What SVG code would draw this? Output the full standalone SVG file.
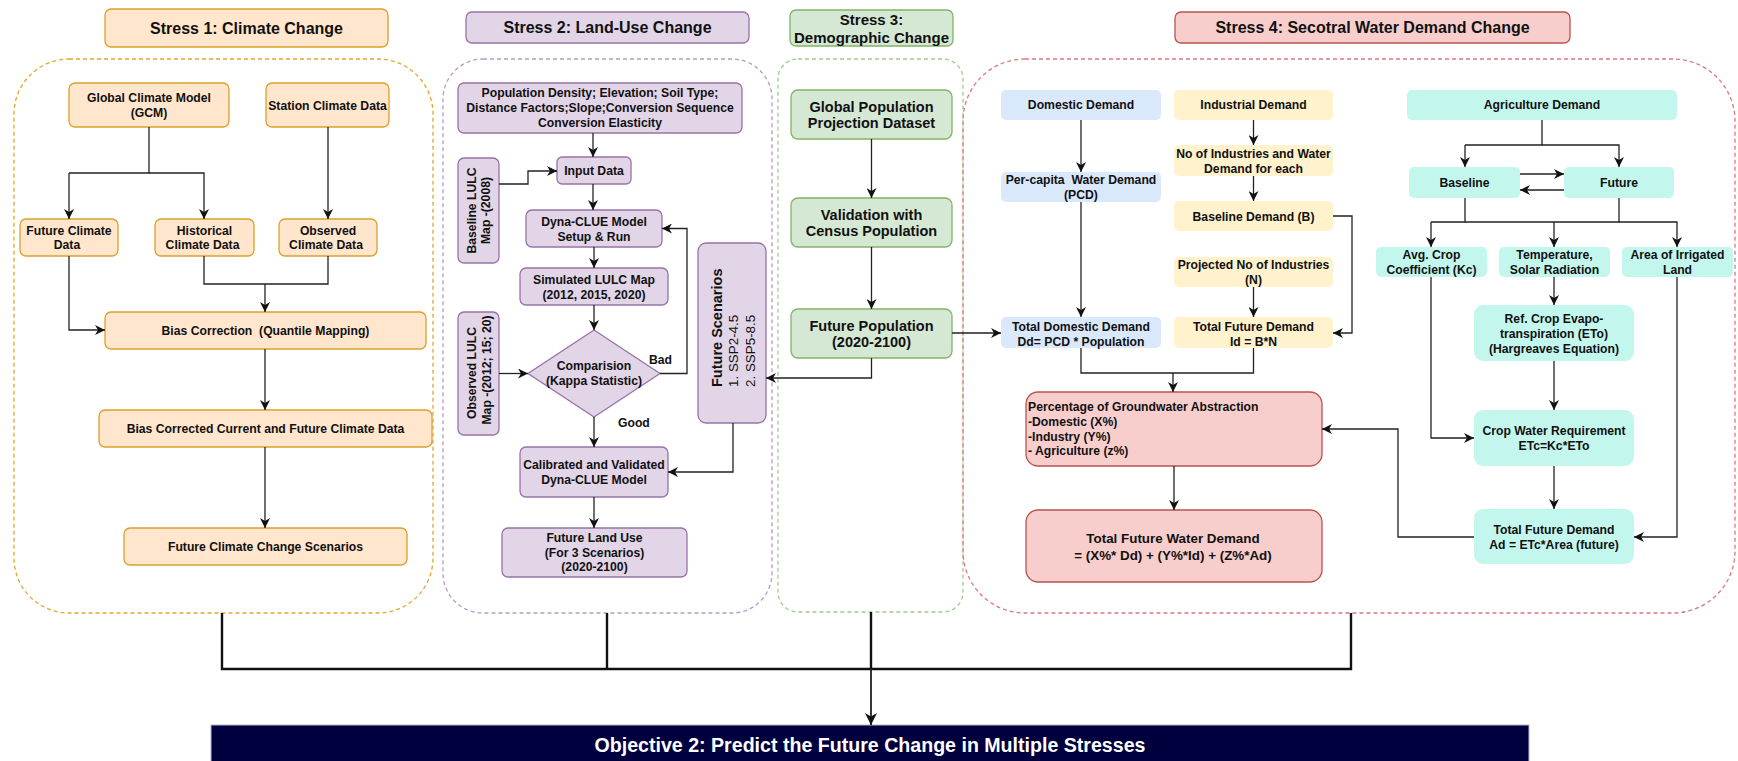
<svg xmlns="http://www.w3.org/2000/svg" width="1738" height="761" viewBox="0 0 1738 761">
  <defs>
    <marker id="arr" viewBox="0 0 10 10" markerWidth="10" markerHeight="10" refX="10" refY="5" orient="auto" markerUnits="userSpaceOnUse">
      <path d="M0,0 L10,5 L0,10 L3,5 Z" fill="#111"/>
    </marker>
    <marker id="arrBig" viewBox="0 0 10 10" markerWidth="12" markerHeight="12" refX="10" refY="5" orient="auto" markerUnits="userSpaceOnUse">
      <path d="M0,0 L10,5 L0,10 L3,5 Z" fill="#111"/>
    </marker>
  </defs>
  <style>
    text { font-family: "Liberation Sans", Arial, sans-serif; font-weight: bold; fill: #111; dominant-baseline: central; }
    .c { text-anchor: middle; }
    .l { text-anchor: start; }
    .pre { white-space: pre; }
    .t16 { font-size: 16px; }
    .t15 { font-size: 15px; }
    .t14 { font-size: 14.5px; }
    .t13 { font-size: 13.4px; }
    .t12 { font-size: 12.2px; }
    .reg { font-weight: normal; }
    .s1 { fill: #ffe6cc; stroke: #dca12a; stroke-width: 1.3; }
    .s2 { fill: #e1d5e7; stroke: #9673a6; stroke-width: 1.3; }
    .s3 { fill: #d5e8d4; stroke: #82b366; stroke-width: 1.3; }
    .s4 { fill: #f8cecc; stroke: #b85450; stroke-width: 1.3; }
    .dom { fill: #dae8fc; }
    .ind { fill: #fff2cc; }
    .agr { fill: #c3f7ed; }
    .box1 { fill: none; stroke: #e0a82e; stroke-width: 1.3; stroke-dasharray: 4 3; }
    .box2 { fill: none; stroke: #b59cc6; stroke-width: 1.3; stroke-dasharray: 4 3; }
    .box3 { fill: none; stroke: #9fcd87; stroke-width: 1.3; stroke-dasharray: 4 3; }
    .box4 { fill: none; stroke: #d97a78; stroke-width: 1.3; stroke-dasharray: 4 3; }
    .edge { fill: none; stroke: #222; stroke-width: 1.3; }
    .edge.a { marker-end: url(#arr); }
    .trunk { fill: none; stroke: #111; stroke-width: 2.4; }
  </style>

  <!-- Stress containers -->
  <g id="containers">
    <rect class="box1" x="14" y="59" width="419" height="554" rx="55"/>
    <rect class="box2" x="443" y="59" width="329" height="554" rx="40"/>
    <rect class="box3" x="778" y="59" width="185" height="553" rx="20"/>
    <rect class="box4" x="963" y="59" width="772" height="554" rx="62"/>
  </g>

  <!-- Stress 1: Climate Change -->
  <g id="stress1-title">
    <rect class="s1" x="105" y="9" width="283" height="38" rx="6"/>
    <text class="c t16" x="246.5" y="28">Stress 1: Climate Change</text>
  </g>
  <g id="gcm">
    <rect class="s1" x="69" y="83" width="160" height="44" rx="6"/>
    <text class="c t12" x="149" y="98">Global Climate Model</text>
    <text class="c t12" x="149" y="113">(GCM)</text>
  </g>
  <g id="station">
    <rect class="s1" x="266" y="83" width="123" height="44" rx="6"/>
    <text class="c t12" x="327.5" y="106">Station Climate Data</text>
  </g>
  <g id="future-climate">
    <rect class="s1" x="20" y="219" width="98" height="37" rx="6"/>
    <text class="c t12" x="69" y="230.5">Future Climate</text>
    <text class="c t12" x="67" y="245">Data</text>
  </g>
  <g id="historical-climate">
    <rect class="s1" x="155" y="219" width="99" height="37" rx="6"/>
    <text class="c t12" x="204.5" y="230.5">Historical</text>
    <text class="c t12" x="202.5" y="245">Climate Data</text>
  </g>
  <g id="observed-climate">
    <rect class="s1" x="279" y="219" width="98" height="37" rx="6"/>
    <text class="c t12" x="328" y="230.5">Observed</text>
    <text class="c t12" x="326" y="245">Climate Data</text>
  </g>
  <g id="bias-correction">
    <rect class="s1" x="105" y="312" width="321" height="37" rx="6"/>
    <text class="c t12 pre" x="265.5" y="330.5">Bias Correction  (Quantile Mapping)</text>
  </g>
  <g id="bias-corrected">
    <rect class="s1" x="99" y="410" width="333" height="37" rx="6"/>
    <text class="c t12" x="265.5" y="428.5">Bias Corrected Current and Future Climate Data</text>
  </g>
  <g id="climate-scenarios">
    <rect class="s1" x="124" y="528" width="283" height="37" rx="6"/>
    <text class="c t12" x="265.5" y="546.5">Future Climate Change Scenarios</text>
  </g>

  <!-- Stress 2: Land-Use Change -->
  <g id="stress2-title">
    <rect class="s2" x="466" y="12" width="283" height="31" rx="6"/>
    <text class="c t16" x="607.5" y="27.5">Stress 2: Land-Use Change</text>
  </g>
  <g id="drivers">
    <rect class="s2" x="458" y="83" width="284" height="50" rx="6"/>
    <text class="c t12" x="600" y="93">Population Density; Elevation; Soil Type;</text>
    <text class="c t12" x="600" y="108">Distance Factors;Slope;Conversion Sequence</text>
    <text class="c t12" x="600" y="123">Conversion Elasticity</text>
  </g>
  <g id="input-data">
    <rect class="s2" x="557" y="157" width="74" height="27" rx="5"/>
    <text class="c t12" x="594" y="170.5">Input Data</text>
  </g>
  <g id="baseline-lulc">
    <rect class="s2" x="458" y="158" width="41" height="105" rx="6"/>
    <text class="c t12" transform="translate(472,210.5) rotate(-90)" x="0" y="0">Baseline LULC</text>
    <text class="c t12" transform="translate(486,210.5) rotate(-90)" x="0" y="0">Map -(2008)</text>
  </g>
  <g id="dyna-setup">
    <rect class="s2" x="526" y="210" width="136" height="37" rx="6"/>
    <text class="c t12" x="594" y="222">Dyna-CLUE Model</text>
    <text class="c t12" x="594" y="237">Setup &amp; Run</text>
  </g>
  <g id="simulated-lulc">
    <rect class="s2" x="520" y="268" width="148" height="37" rx="6"/>
    <text class="c t12" x="594" y="280">Simulated LULC Map</text>
    <text class="c t12" x="594" y="295">(2012, 2015, 2020)</text>
  </g>
  <g id="comparison">
    <polygon class="s2" points="594,330 660,373.5 594,417 528,373.5"/>
    <text class="c t12" x="594" y="366">Comparision</text>
    <text class="c t12" x="594" y="381">(Kappa Statistic)</text>
  </g>
  <g id="observed-lulc">
    <rect class="s2" x="458" y="312" width="41" height="123" rx="6"/>
    <text class="c t12" transform="translate(472,373) rotate(-90)" x="0" y="0">Observed LULC</text>
    <text class="c t12" transform="translate(487,370) rotate(-90)" x="0" y="0">Map -(2012; 15; 20)</text>
  </g>
  <g id="calibrated">
    <rect class="s2" x="520" y="447" width="148" height="50" rx="6"/>
    <text class="c t12" x="594" y="465">Calibrated and Validated</text>
    <text class="c t12" x="594" y="480">Dyna-CLUE Model</text>
  </g>
  <g id="future-land-use">
    <rect class="s2" x="502" y="528" width="185" height="49" rx="6"/>
    <text class="c t12" x="594.5" y="538">Future Land Use</text>
    <text class="c t12" x="594.5" y="552.5">(For 3 Scenarios)</text>
    <text class="c t12" x="594.5" y="567">(2020-2100)</text>
  </g>
  <g id="future-scenarios">
    <rect class="s2" x="698" y="243" width="68" height="180" rx="8"/>
    <text class="l t14" transform="translate(717,387) rotate(-90)" x="0" y="0">Future Scenarios</text>
    <text class="l t13 reg" transform="translate(733.5,387) rotate(-90)" x="0" y="0">1. SSP2-4.5</text>
    <text class="l t13 reg" transform="translate(750,387) rotate(-90)" x="0" y="0">2. SSP5-8.5</text>
  </g>
  <g id="edge-labels">
    <text class="l t12" x="649" y="360">Bad</text>
    <text class="l t12" x="618" y="423">Good</text>
  </g>

  <!-- Stress 3: Demographic Change -->
  <g id="stress3-title">
    <rect class="s3" x="790" y="10" width="163" height="36" rx="6"/>
    <text class="c t15" x="871.5" y="19">Stress 3:</text>
    <text class="c t15" x="871.5" y="37">Demographic Change</text>
  </g>
  <g id="global-population">
    <rect class="s3" x="791" y="90" width="161" height="49" rx="7"/>
    <text class="c t14" x="871.5" y="106.5">Global Population</text>
    <text class="c t14" x="871.5" y="123">Projection Dataset</text>
  </g>
  <g id="census-validation">
    <rect class="s3" x="791" y="198" width="161" height="49" rx="7"/>
    <text class="c t14" x="871.5" y="214.5">Validation with</text>
    <text class="c t14" x="871.5" y="231">Census Population</text>
  </g>
  <g id="future-population">
    <rect class="s3" x="791" y="309" width="161" height="49" rx="7"/>
    <text class="c t14" x="871.5" y="325.5">Future Population</text>
    <text class="c t14" x="871.5" y="342">(2020-2100)</text>
  </g>

  <!-- Stress 4: Sectoral Water Demand -->
  <g id="stress4-title">
    <rect class="s4" x="1175" y="12" width="395" height="31" rx="6"/>
    <text class="c t16" x="1372.5" y="27.5">Stress 4: Secotral Water Demand Change</text>
  </g>
  <g id="domestic-demand">
    <rect class="dom" x="1001" y="90" width="160" height="30" rx="5"/>
    <text class="c t12" x="1081" y="105">Domestic Demand</text>
  </g>
  <g id="per-capita">
    <rect class="dom" x="1001" y="172" width="160" height="30" rx="5"/>
    <text class="c t12 pre" x="1081" y="180">Per-capita  Water Demand</text>
    <text class="c t12" x="1081" y="195">(PCD)</text>
  </g>
  <g id="total-domestic">
    <rect class="dom" x="1001" y="317" width="160" height="31" rx="5"/>
    <text class="c t12" x="1081" y="327">Total Domestic Demand</text>
    <text class="c t12" x="1081" y="342">Dd= PCD * Population</text>
  </g>
  <g id="industrial-demand">
    <rect class="ind" x="1174" y="90" width="159" height="30" rx="5"/>
    <text class="c t12" x="1253.5" y="105">Industrial Demand</text>
  </g>
  <g id="industries-count">
    <rect class="ind" x="1174" y="145" width="159" height="31" rx="5"/>
    <text class="c t12" x="1253.5" y="154">No of Industries and Water</text>
    <text class="c t12" x="1253.5" y="169">Demand for each</text>
  </g>
  <g id="baseline-demand">
    <rect class="ind" x="1174" y="201" width="159" height="30" rx="5"/>
    <text class="c t12" x="1253.5" y="216.5">Baseline Demand (B)</text>
  </g>
  <g id="projected-industries">
    <rect class="ind" x="1174" y="257" width="159" height="30" rx="5"/>
    <text class="c t12" x="1253.5" y="265">Projected No of Industries</text>
    <text class="c t12" x="1253.5" y="280">(N)</text>
  </g>
  <g id="total-industrial">
    <rect class="ind" x="1174" y="317" width="159" height="31" rx="5"/>
    <text class="c t12" x="1253.5" y="327">Total Future Demand</text>
    <text class="c t12" x="1253.5" y="342">Id = B*N</text>
  </g>
  <g id="groundwater-share">
    <rect class="s4" x="1026" y="392" width="296" height="74" rx="12"/>
    <text class="l t12" x="1028" y="407">Percentage of Groundwater Abstraction</text>
    <text class="l t12" x="1028" y="422">-Domestic (X%)</text>
    <text class="l t12" x="1028" y="436.5">-Industry (Y%)</text>
    <text class="l t12" x="1028" y="451">- Agriculture (z%)</text>
  </g>
  <g id="total-water-demand">
    <rect class="s4" x="1026" y="510" width="296" height="72" rx="12"/>
    <text class="c t13" x="1173" y="538">Total Future Water Demand</text>
    <text class="c t13" x="1173" y="555">= (X%* Dd) + (Y%*Id) + (Z%*Ad)</text>
  </g>
  <g id="agriculture-demand">
    <rect class="agr" x="1407" y="90" width="270" height="30" rx="5"/>
    <text class="c t12" x="1542" y="105">Agriculture Demand</text>
  </g>
  <g id="agri-baseline">
    <rect class="agr" x="1409" y="167" width="111" height="31" rx="5"/>
    <text class="c t12" x="1464.5" y="182.5">Baseline</text>
  </g>
  <g id="agri-future">
    <rect class="agr" x="1564" y="167" width="110" height="31" rx="5"/>
    <text class="c t12" x="1619" y="182.5">Future</text>
  </g>
  <g id="crop-coefficient">
    <rect class="agr" x="1376" y="247" width="111" height="30" rx="5"/>
    <text class="c t12" x="1431.5" y="255">Avg. Crop</text>
    <text class="c t12" x="1431.5" y="270">Coefficient (Kc)</text>
  </g>
  <g id="temperature">
    <rect class="agr" x="1499" y="247" width="111" height="30" rx="5"/>
    <text class="c t12" x="1554.5" y="255">Temperature,</text>
    <text class="c t12" x="1554.5" y="270">Solar Radiation</text>
  </g>
  <g id="irrigated-area">
    <rect class="agr" x="1622" y="247" width="111" height="30" rx="5"/>
    <text class="c t12" x="1677.5" y="255">Area of Irrigated</text>
    <text class="c t12" x="1677.5" y="270">Land</text>
  </g>
  <g id="reference-et">
    <rect class="agr" x="1474" y="305" width="160" height="56" rx="9"/>
    <text class="c t12" x="1554" y="319">Ref. Crop Evapo-</text>
    <text class="c t12" x="1554" y="334">transpiration (ETo)</text>
    <text class="c t12" x="1554" y="348.5">(Hargreaves Equation)</text>
  </g>
  <g id="crop-water">
    <rect class="agr" x="1474" y="410" width="160" height="56" rx="9"/>
    <text class="c t12" x="1554" y="431">Crop Water Requirement</text>
    <text class="c t12" x="1554" y="446">ETc=Kc*ETo</text>
  </g>
  <g id="total-agricultural">
    <rect class="agr" x="1474" y="509" width="160" height="55" rx="9"/>
    <text class="c t12" x="1554" y="530">Total Future Demand</text>
    <text class="c t12" x="1554" y="545">Ad = ETc*Area (future)</text>
  </g>

  <!-- Objective banner -->
  <g id="objective">
    <rect x="211" y="725" width="1318" height="42" fill="#00003f" stroke="#b8b8cc" stroke-width="1"/>
    <text class="c" x="870" y="745" style="font-size:19.6px; fill:#ffffff">Objective 2: Predict the Future Change in Multiple Stresses</text>
  </g>

  <!-- Connectors -->
  <g id="connectors">
    <!-- climate -->
    <path class="edge" d="M149,127 V173 H69"/>
    <path class="edge a" d="M69,173 V219"/>
    <path class="edge a" d="M149,173 H204 V219"/>
    <path class="edge a" d="M328,127 V219"/>
    <path class="edge" d="M204,256 V284 H328 V256"/>
    <path class="edge a" d="M265,284 V312"/>
    <path class="edge a" d="M69,256 V330 H105"/>
    <path class="edge a" d="M265,349 V410"/>
    <path class="edge a" d="M265,447 V528"/>
    <!-- land use -->
    <path class="edge a" d="M593,133 V157"/>
    <path class="edge a" d="M499,184 H528 V171 H557"/>
    <path class="edge a" d="M593,184 V210"/>
    <path class="edge a" d="M594,247 V268"/>
    <path class="edge a" d="M594,305 V330"/>
    <path class="edge a" d="M499,373.5 H528"/>
    <path class="edge a" d="M660,373.5 H687 V228.5 H662"/>
    <path class="edge a" d="M594,417 V447"/>
    <path class="edge a" d="M733,423 V472 H668"/>
    <path class="edge a" d="M594,497 V528"/>
    <!-- demographic -->
    <path class="edge a" d="M871.5,139 V198"/>
    <path class="edge a" d="M871.5,247 V309"/>
    <path class="edge a" d="M952,333 H1001"/>
    <path class="edge a" d="M871.5,358 V378 H766"/>
    <!-- domestic and industrial -->
    <path class="edge a" d="M1081,120 V172"/>
    <path class="edge a" d="M1081,202 V317"/>
    <path class="edge a" d="M1253.5,120 V145"/>
    <path class="edge a" d="M1253.5,176 V201"/>
    <path class="edge a" d="M1253.5,287 V317"/>
    <path class="edge a" d="M1333,216 H1352 V333 H1333"/>
    <path class="edge" d="M1081,348 V373 H1253.5 V348"/>
    <path class="edge a" d="M1173,373 V392"/>
    <path class="edge a" d="M1174,466 V510"/>
    <!-- agriculture -->
    <path class="edge" d="M1542,120 V145 H1465"/>
    <path class="edge a" d="M1465,145 V167"/>
    <path class="edge a" d="M1542,145 H1619 V167"/>
    <path class="edge a" d="M1520,174 H1564"/>
    <path class="edge a" d="M1564,190 H1520"/>
    <path class="edge" d="M1465,198 V222 H1431"/>
    <path class="edge a" d="M1431,222 V247"/>
    <path class="edge" d="M1465,222 H1554"/>
    <path class="edge" d="M1619,198 V222 H1554"/>
    <path class="edge a" d="M1554,222 V247"/>
    <path class="edge a" d="M1619,222 H1677 V247"/>
    <path class="edge a" d="M1554,277 V305"/>
    <path class="edge a" d="M1554,361 V410"/>
    <path class="edge a" d="M1554,466 V509"/>
    <path class="edge a" d="M1431,277 V438 H1474"/>
    <path class="edge a" d="M1677,277 V537 H1634"/>
    <path class="edge a" d="M1474,537 H1398 V429 H1322"/>
    <!-- merge into objective -->
    <path class="trunk" d="M222,613 V669 H1351 V613"/>
    <path class="trunk" d="M607,613 V669"/>
    <path class="trunk" d="M871,612 V669"/>
    <path class="edge" style="stroke-width:1.8; marker-end:url(#arrBig)" d="M871,669 V725"/>
  </g>
</svg>
